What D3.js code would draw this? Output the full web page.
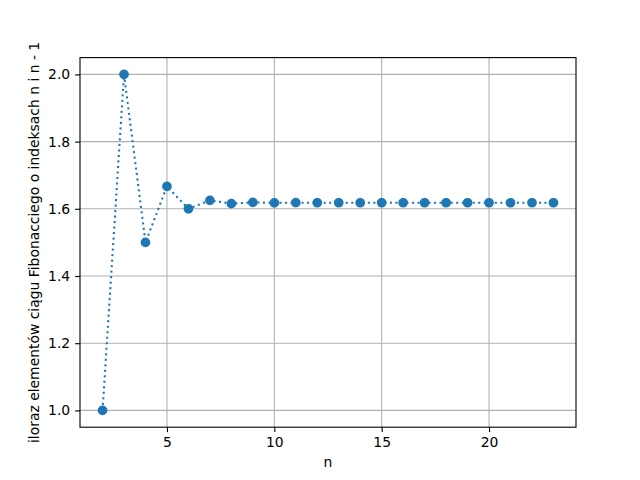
<!DOCTYPE html>
<html>
<head>
<meta charset="utf-8">
<script src="https://cdn.jsdelivr.net/npm/d3@7"></script>
<style>
  body { margin: 0; background: #fff; }
  text { font-family: "DejaVu Sans", sans-serif; fill: #000; }
</style>
</head>
<body>
<div id="chart"></div>
<script>
// Fibonacci ratio chart
var nValues = [2, 3, 4, 5, 6, 7, 8, 9, 10, 11, 12, 13, 14, 15, 16, 17, 18, 19, 20, 21, 22, 23]
var ratios = [1.0, 2.0, 1.5, 1.6667, 1.6, 1.625, 1.6154, 1.619, 1.6176, 1.6182, 1.618, 1.618,
  1.618, 1.618, 1.618, 1.618, 1.618, 1.618, 1.618, 1.618, 1.618, 1.618]
var xTicks = [5, 10, 15, 20]
var yTicks = [1.0, 1.2, 1.4, 1.6, 1.8, 2.0]

var width = 640
var height = 480
var margin = { top: 57.6, right: 64, bottom: 52.8, left: 80 }
var color = '#1f77b4'

var svg = d3.select('#chart')
  .append('svg')
  .attr('width', width)
  .attr('height', height)

var dataset = nValues.map((n, i) => ({ n: n, r: ratios[i] }))

// Scales with matplotlib-like 5% padding
var xScale = d3.scaleLinear()
  .domain([0.95, 24.05])
  .range([margin.left, width - margin.right])

var yScale = d3.scaleLinear()
  .domain([0.95, 2.05])
  .range([height - margin.bottom, margin.top])

// Grid
svg.append('g')
  .selectAll('line')
  .data(xTicks)
  .enter()
  .append('line')
  .attr('x1', d => xScale(d))
  .attr('x2', d => xScale(d))
  .attr('y1', margin.top)
  .attr('y2', height - margin.bottom)
  .attr('stroke', '#b0b0b0')
  .attr('stroke-width', 1.1)

svg.append('g')
  .selectAll('line')
  .data(yTicks)
  .enter()
  .append('line')
  .attr('x1', margin.left)
  .attr('x2', width - margin.right)
  .attr('y1', d => yScale(d))
  .attr('y2', d => yScale(d))
  .attr('stroke', '#b0b0b0')
  .attr('stroke-width', 1.1)

// Axes
var xAxis = d3.axisBottom(xScale)
  .tickValues(xTicks)
  .tickFormat(d3.format('d'))
  .tickSize(4.9)
  .tickPadding(4.9)

var yAxis = d3.axisLeft(yScale)
  .tickValues(yTicks)
  .tickFormat(d3.format('.1f'))
  .tickSize(4.9)
  .tickPadding(4.9)

var gx = svg.append('g')
  .attr('transform', `translate(0, ${height - margin.bottom})`)
  .call(xAxis)

var gy = svg.append('g')
  .attr('transform', `translate(${margin.left}, 0)`)
  .call(yAxis)

;[gx, gy].forEach(g => {
  g.select('.domain').remove()
  g.selectAll('.tick line').attr('stroke', '#000').attr('stroke-width', 1.1)
  g.selectAll('.tick text')
    .style('font-family', '"DejaVu Sans", sans-serif')
    .style('font-size', '13.9px')
    .attr('fill', '#000')
})

// Line + markers
var line = d3.line()
  .x(d => xScale(d.n))
  .y(d => yScale(d.r))

svg.append('path')
  .datum(dataset)
  .attr('d', line)
  .attr('fill', 'none')
  .attr('stroke', color)
  .attr('stroke-width', 2.08)
  .attr('stroke-dasharray', '2.08,3.44')

svg.selectAll('circle')
  .data(dataset)
  .enter()
  .append('circle')
  .attr('cx', d => xScale(d.n))
  .attr('cy', d => yScale(d.r))
  .attr('r', 4.17)
  .attr('fill', color)
  .attr('stroke', color)
  .attr('stroke-width', 1.39)

// Frame
svg.append('rect')
  .attr('x', margin.left)
  .attr('y', margin.top)
  .attr('width', width - margin.left - margin.right)
  .attr('height', height - margin.top - margin.bottom)
  .attr('fill', 'none')
  .attr('stroke', '#000')
  .attr('stroke-width', 1.1)

// Labels
svg.append('text')
  .attr('x', (margin.left + width - margin.right) / 2)
  .attr('y', 467)
  .attr('text-anchor', 'middle')
  .style('font-size', '13.9px')
  .text('n')

svg.append('text')
  .attr('transform', `translate(39, ${(margin.top + height - margin.bottom) / 2}) rotate(-90)`)
  .attr('text-anchor', 'middle')
  .style('font-size', '13.9px')
  .text('iloraz elementów ciągu Fibonacciego o indeksach n i n - 1')
</script>
</body>
</html>
